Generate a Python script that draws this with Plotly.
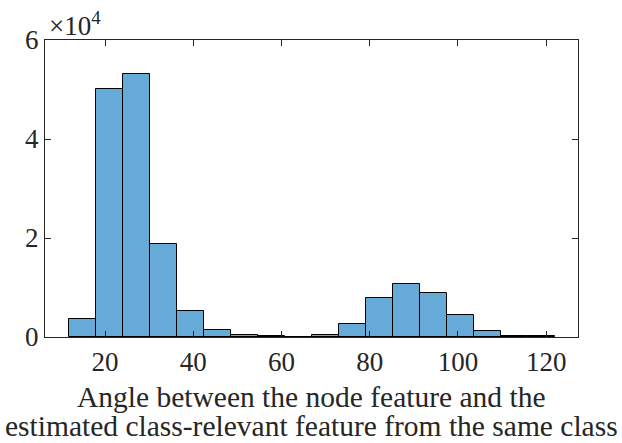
import plotly.graph_objects as go

# Histogram bin edges (degrees) and counts
bin_edges = [11.92, 18.04, 24.15, 30.27, 36.38, 42.50, 48.61, 54.73, 60.84, 66.96,
             73.07, 79.19, 85.30, 91.42, 97.53, 103.65, 109.76, 115.88, 121.99]
counts = [3700, 50200, 53100, 18700, 5200, 1500, 450, 150, 80, 330,
          2700, 7950, 10800, 8800, 4400, 1250, 280, 120]

x_tick_vals = [20, 40, 60, 80, 100, 120]
y_tick_vals = [0, 20000, 40000, 60000]
y_tick_text = ["0", "2", "4", "6"]
x_label_lines = ["Angle between the node feature and the",
                 "estimated class-relevant feature from the same class"]

centers = [(a + b) / 2 for a, b in zip(bin_edges[:-1], bin_edges[1:])]
widths = [b - a for a, b in zip(bin_edges[:-1], bin_edges[1:])]

FONT = "Liberation Serif"
AX = "#262626"

fig = go.Figure()
fig.add_trace(go.Bar(
    x=centers, y=counts, width=widths,
    marker=dict(color="#66AAD7", line=dict(color="#000000", width=1)),
    showlegend=False,
))

annotations = [dict(
    text="×10<sup>4</sup>", xref="paper", yref="paper", x=0, y=1,
    xanchor="left", yanchor="bottom", xshift=2, yshift=-3, showarrow=False,
    font=dict(family=FONT, size=27, color=AX),
)]
for i, line in enumerate(x_label_lines):
    annotations.append(dict(
        text=line, xref="paper", yref="paper", x=0.5, y=0,
        xanchor="center", yanchor="middle", yshift=-60 - 29 * i, showarrow=False,
        font=dict(family=FONT, size=29.5, color=AX),
    ))

fig.update_layout(
    width=622, height=443,
    margin=dict(l=45, r=44, t=40, b=106),
    paper_bgcolor="white", plot_bgcolor="white",
    font=dict(family=FONT, size=27, color=AX),
    bargap=0,
    xaxis=dict(
        range=[6.4, 127.2], tickvals=x_tick_vals, automargin=False,
        ticks="inside", ticklen=6, tickcolor=AX, tickwidth=1,
        showline=True, linecolor=AX, linewidth=1, mirror="allticks",
        showgrid=False, zeroline=False, ticklabelstandoff=1,
        tickfont=dict(family=FONT, size=27, color=AX),
    ),
    yaxis=dict(
        range=[0, 60000], tickvals=y_tick_vals, ticktext=y_tick_text, automargin=False,
        ticks="inside", ticklen=6, tickcolor=AX, tickwidth=1,
        showline=True, linecolor=AX, linewidth=1, mirror="allticks",
        showgrid=False, zeroline=False,
        tickfont=dict(family=FONT, size=27, color=AX),
    ),
    annotations=annotations,
)

fig.write_html("out.html")
